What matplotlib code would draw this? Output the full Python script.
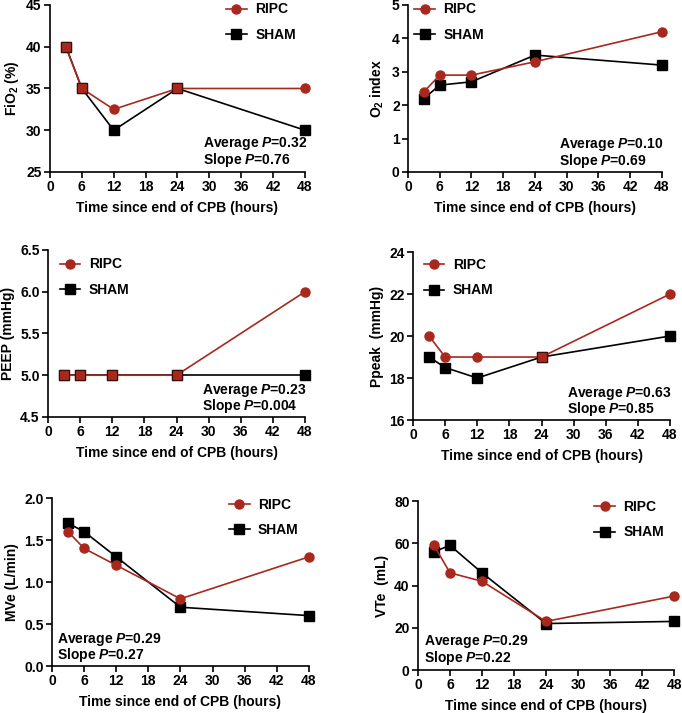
import numpy as np
import matplotlib
matplotlib.use("Agg")
import matplotlib.pyplot as plt

plt.rcParams['font.family'] = ['Liberation Sans', 'DejaVu Sans']
plt.rcParams['font.weight'] = 'bold'
plt.rcParams['axes.labelweight'] = 'bold'
plt.rcParams['font.size'] = 10
plt.rcParams['mathtext.fontset'] = 'custom'
plt.rcParams['mathtext.rm'] = 'Liberation Sans:bold'
plt.rcParams['mathtext.it'] = 'Liberation Sans:italic:bold'
plt.rcParams['mathtext.bf'] = 'Liberation Sans:bold'
plt.rcParams['axes.linewidth'] = 1.2

hours = [3, 6, 12, 24, 48]
xticks = [0, 6, 12, 18, 24, 30, 36, 42, 48]

fio2_ripc = [40, 35, 32.5, 35, 35]
fio2_sham = [40, 35, 30, 35, 30]
o2_ripc = [2.4, 2.9, 2.9, 3.3, 4.2]
o2_sham = [2.2, 2.6, 2.7, 3.5, 3.2]
peep_ripc = [5, 5, 5, 5, 6]
peep_sham = [5, 5, 5, 5, 5]
ppeak_ripc = [20, 19, 19, 19, 22]
ppeak_sham = [19, 18.5, 18, 19, 20]
mve_ripc = [1.6, 1.4, 1.2, 0.8, 1.3]
mve_sham = [1.7, 1.6, 1.3, 0.7, 0.6]
vte_ripc = [59, 46, 42, 23, 35]
vte_sham = [56, 59, 46, 22, 23]

red = '#A8281D'

panels = [
    # rect, ripc, sham, ylabel, ylim, ystep, fmt, stats text, stats pos, legend anchor
    ([0.0733, 0.7588, 0.3739, 0.2342], fio2_ripc, fio2_sham, 'FiO$_2$ (%)',
     (25, 45), 5, '%d', ('0.32', '0.76'), (0.60, 0.168), (0.69, 1.015)),
    ([0.5982, 0.7588, 0.3724, 0.2342], o2_ripc, o2_sham, 'O$_2$ index',
     (0, 5), 1, '%d', ('0.10', '0.69'), (0.594, 0.162), (0.025, 1.015)),
    ([0.0704, 0.4152, 0.3768, 0.2342], peep_ripc, peep_sham, 'PEEP (mmHg)',
     (4.5, 6.5), 0.5, '%.1f', ('0.23', '0.004'), (0.60, 0.16), (0.045, 0.955)),
    ([0.6056, 0.4109, 0.3768, 0.2356], ppeak_ripc, ppeak_sham, 'Ppeak  (mmHg)',
     (16, 24), 2, '%d', ('0.63', '0.85'), (0.60, 0.16), (0.041, 0.963)),
    ([0.0762, 0.0659, 0.3768, 0.2356], mve_ripc, mve_sham, 'MVe (L/min)',
     (0, 2), 0.5, '%.1f', ('0.29', '0.27'), (0.02, 0.16), (0.688, 0.999)),
    ([0.6129, 0.0603, 0.3754, 0.2370], vte_ripc, vte_sham, 'VTe  (mL)',
     (0, 80), 20, '%d', ('0.29', '0.22'), (0.023, 0.17), (0.688, 1.004)),
]

fig = plt.figure(figsize=(6.82, 7.13), dpi=100)

for rect, ripc, sham, ylabel, ylim, ystep, fmt, stats, spos, lpos in panels:
    ax = fig.add_axes(rect)
    ax.plot(hours, sham, color='black', lw=1.2, marker='s', ms=6.5,
            mfc='black', mec='black', label='SHAM', zorder=3, clip_on=False)
    ax.plot(hours, ripc, color=red, lw=1.2, marker='o', ms=6.5,
            mfc=red, mec=red, label='RIPC', zorder=4, clip_on=False)
    # points where both groups coincide are shown as red squares
    same = np.isclose(ripc, sham)
    ax.plot(np.array(hours)[same], np.array(ripc)[same], ls='none', marker='s',
            ms=6.5, mfc=red, mec='#3a0f0a', mew=0.8, zorder=5, clip_on=False)

    ax.set_xlim(0, 48)
    ax.set_xticks(xticks, labels=[str(v) for v in xticks],
                  fontsize=10, fontweight='bold')
    ax.set_ylim(*ylim)
    yt = np.arange(ylim[0], ylim[1] + ystep / 2, ystep)
    ax.set_yticks(yt, labels=[fmt % v for v in yt], fontsize=10, fontweight='bold')
    ax.spines['top'].set_visible(False)
    ax.spines['right'].set_visible(False)
    ax.tick_params(direction='out', length=4, width=1.2, pad=2)
    ax.set_xlabel('Time since end of CPB (hours)', fontsize=10, fontweight='bold', labelpad=5)
    ax.set_ylabel(ylabel, fontsize=10, fontweight='bold', labelpad=4)

    ax.text(spos[0], spos[1], 'Average $P$=' + stats[0], transform=ax.transAxes,
            fontsize=10, fontweight='bold', va='center', ha='left')
    ax.text(spos[0], spos[1] - 0.096, 'Slope $P$=' + stats[1], transform=ax.transAxes,
            fontsize=10, fontweight='bold', va='center', ha='left')

    h, l = ax.get_legend_handles_labels()
    ax.legend(h[::-1], l[::-1], loc='upper left', bbox_to_anchor=lpos,
              frameon=False, handlelength=1.5, handletextpad=0.6,
              labelspacing=0.8, borderpad=0, borderaxespad=0,
              prop={'size': 10, 'weight': 'bold'})

fig.savefig('out.png', dpi=100)
